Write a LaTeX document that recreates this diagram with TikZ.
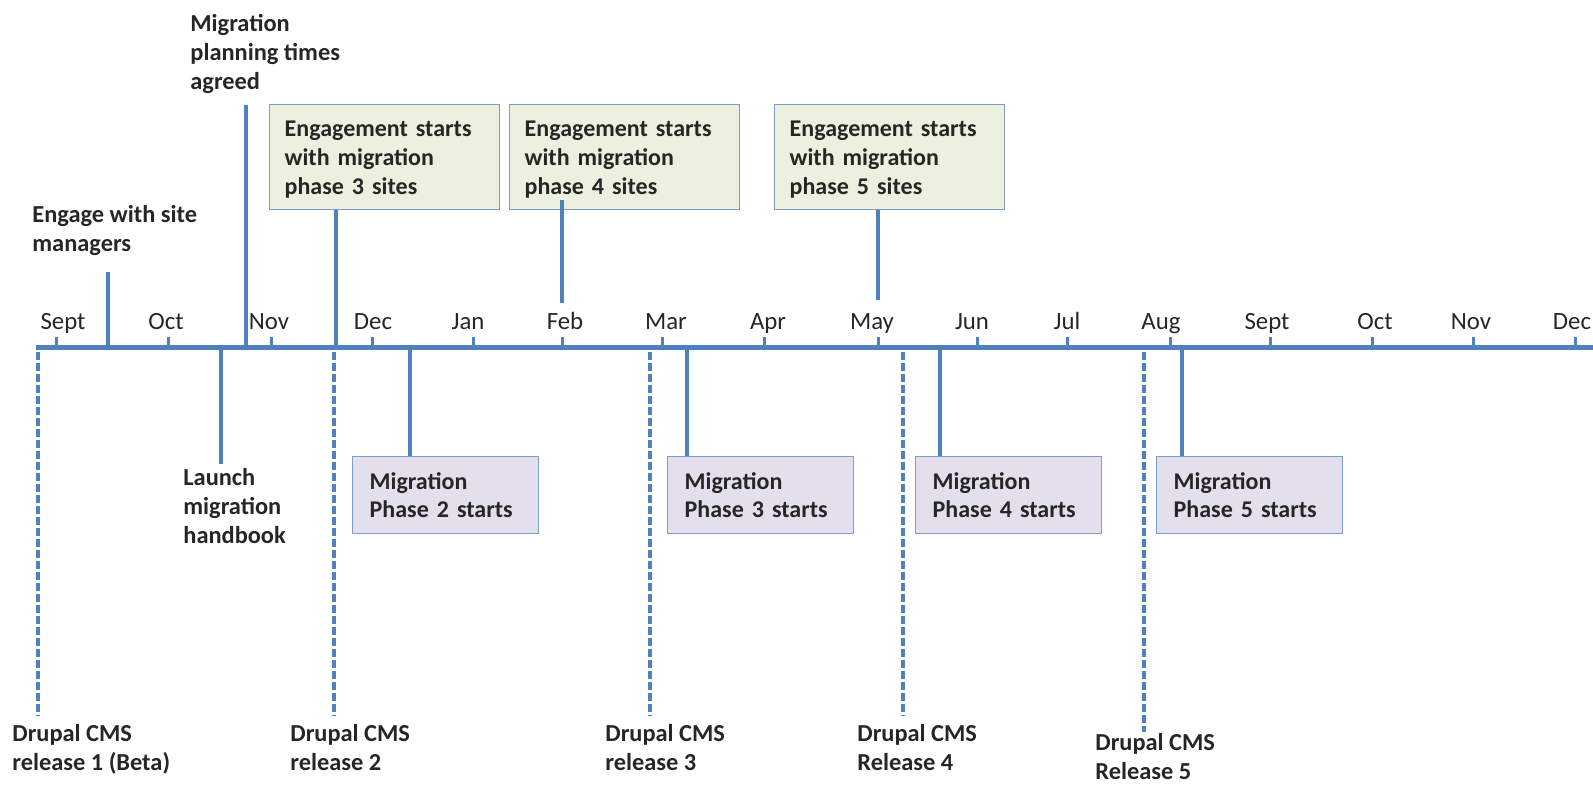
\documentclass[tikz,border=0pt]{standalone}
\usepackage{fontspec}
\setmainfont{Carlito}
\definecolor{ln}{HTML}{4F81BD}
\definecolor{gfill}{HTML}{EBF1DE}
\definecolor{pfill}{HTML}{E4DFEC}
\definecolor{bord}{HTML}{7F9CC6}
\definecolor{txt}{HTML}{262626}
\newcommand{\firstup}{\rule{0pt}{10.2pt}}
\begin{document}
\begin{tikzpicture}[x=0.5pt,y=-0.5pt,
  lbl/.style={font=\bfseries\fontsize{12.2}{14.5}\selectfont, text=txt, align=left, inner sep=0pt, anchor=base west},
  mon/.style={font=\fontsize{12.4}{15}\selectfont, text=txt, inner sep=0pt, anchor=base},
  gbox/.style={draw=bord, line width=0.7pt, fill=gfill, font=\bfseries\fontsize{12}{14.5}\selectfont, text=txt, align=left, anchor=north west, inner xsep=7.5pt, inner ysep=0pt, text width=100pt, minimum height=52.5pt},
  pbox/.style={draw=bord, line width=0.7pt, fill=pfill, font=\bfseries\fontsize{12}{13.75}\selectfont, text=txt, align=left, anchor=north west, inner xsep=8.5pt, inner ysep=0pt, text width=76pt, minimum height=38.5pt},
  conn/.style={draw=ln, line width=2pt},
  rel/.style={draw=ln, line width=2pt, dash pattern=on 4pt off 1.5pt},
  tickmark/.style={draw=ln, line width=1.5pt},
  axisline/.style={draw=ln, line width=2.5pt}
]
\useasboundingbox (0,0) rectangle (1593,784);

% axis
\coordinate (axL) at (36,347);
\coordinate (axR) at (1593,347);
\draw[axisline] (axL) -- (axR);

% ticks and month labels
\foreach \tx/\lx/\m [count=\i] in {56/63/Sept,168/166/Oct,271/269/Nov,372/373/Dec,473/468/Jan,562/565/Feb,662/666/Mar,764/768/Apr,878/872/May,977/972/Jun,1067/1067/Jul,1170/1161/Aug,1270/1267/Sept,1372/1375/Oct,1473/1471/Nov,1575/1572/Dec}{
  \coordinate (tb\i) at (\tx,347);
  \coordinate (tt\i) at (\tx,337);
  \draw[tickmark] (tb\i) -- (tt\i);
  \node[mon] (m\i) at (\lx,329) {\m};
}

% labels above (anchor = baseline of the last line)
\node[lbl] (mig) at (190,89) {Migration\\planning times\\agreed};
\node[lbl] (eng) at (32,251) {Engage with site\\managers};

\node[gbox] (g1) at (269,104) {\firstup Engagement starts\\with migration\\phase 3 sites};
\node[gbox] (g2) at (509,104) {\firstup Engagement starts\\with migration\\phase 4 sites};
\node[gbox] (g3) at (774,104) {\firstup Engagement starts\\with migration\\phase 5 sites};

% labels below
\node[lbl] (launch) at (183,543) {Launch\\migration\\handbook};
\node[pbox] (p2) at (352,456) {Migration\\Phase 2 starts};
\node[pbox] (p3) at (667,456) {Migration\\Phase 3 starts};
\node[pbox] (p4) at (915,456) {Migration\\Phase 4 starts};
\node[pbox] (p5) at (1156,456) {Migration\\Phase 5 starts};

\node[lbl] (r1) at (12,770) {Drupal CMS\\release 1 (Beta)};
\node[lbl] (r2) at (290,770) {Drupal CMS\\release 2};
\node[lbl] (r3) at (605,770) {Drupal CMS\\release 3};
\node[lbl] (r4) at (857,770) {Drupal CMS\\Release 4};
\node[lbl] (r5) at (1095,779) {Drupal CMS\\Release 5};

% connector coordinates
\coordinate (engTop) at (108,272);
\coordinate (engAx) at (108,347);
\coordinate (migTop) at (246,105);
\coordinate (migAx) at (246,347);
\coordinate (g1Ax) at (336,347);
\coordinate (g2In) at (562,200);
\coordinate (g2End) at (562,303);
\coordinate (g3End) at (878,300);
\coordinate (laAx) at (221,347);
\coordinate (laEnd) at (221,464);
\coordinate (p2Ax) at (410,347);
\coordinate (p3Ax) at (687,347);
\coordinate (p4Ax) at (940,347);
\coordinate (p5Ax) at (1182,347);

\draw[conn] (engTop) -- (engAx);
\draw[conn] (migTop) -- (migAx);
\draw[conn] (g1Ax |- g1.south) -- (g1Ax);
\draw[conn] (g2In) -- (g2End);
\draw[conn] (g3End |- g3.south) -- (g3End);
\draw[conn] (laAx) -- (laEnd);
\draw[conn] (p2Ax) -- (p2Ax |- p2.north);
\draw[conn] (p3Ax) -- (p3Ax |- p3.north);
\draw[conn] (p4Ax) -- (p4Ax |- p4.north);
\draw[conn] (p5Ax) -- (p5Ax |- p5.north);

% release dashed lines
\foreach \dx/\de/\n in {38/716/1,334/716/2,650/716/3,903/716/4,1144/732/5}{
  \coordinate (d\n a) at (\dx,352);
  \coordinate (d\n b) at (\dx,\de);
  \draw[rel] (d\n a) -- (d\n b);
}
\end{tikzpicture}
\end{document}
